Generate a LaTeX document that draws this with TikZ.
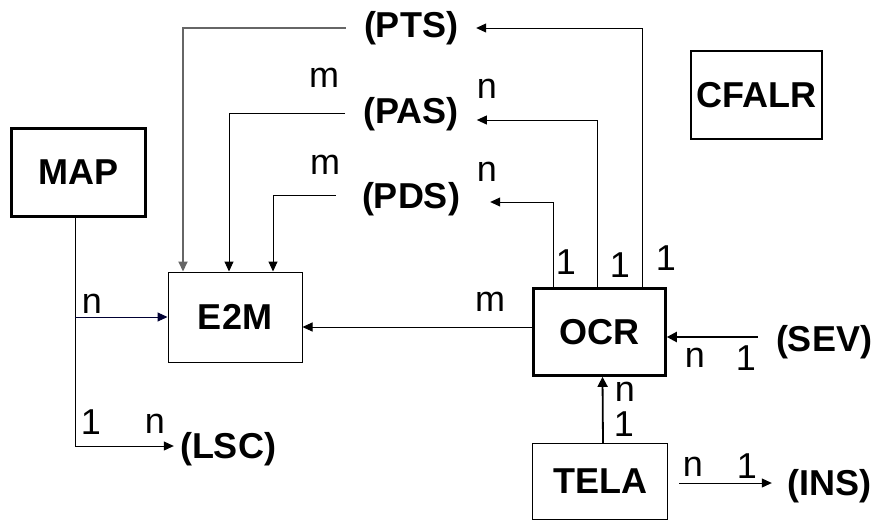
\documentclass[tikz,border=0pt]{standalone}
\usepackage{fontspec}
\setmainfont{Liberation Sans}
\usetikzlibrary{arrows.meta}
\begin{document}
\begin{tikzpicture}[x=1pt,y=-1pt,
  box/.style={draw,line width=1pt,inner sep=0pt,font=\fontsize{36}{38}\selectfont\bfseries},
  thickbox/.style={box,line width=3pt},
  ent/.style={inner sep=0pt,font=\fontsize{36}{38}\selectfont\bfseries},
  lab/.style={inner sep=0pt,font=\fontsize{36}{38}\selectfont},
  arr/.style={line width=1pt,-{Triangle[length=10pt,width=9pt]}},
  arrthick/.style={line width=2.2pt,-{Triangle[length=10pt,width=10pt]}}]
\useasboundingbox (0,0) rectangle (876,523);
% boxes
\node[thickbox,minimum width=134pt,minimum height=88pt] (MAP) at (78.5,172) {MAP};
\node[box,minimum width=134pt,minimum height=90pt] (E2M) at (235,317) {E2M};
\node[box,line width=2pt,minimum width=131pt,minimum height=88pt] (CFALR) at (756.5,95) {CFALR};
\node[box,line width=2.6pt,minimum width=132pt,minimum height=87pt] (OCR) at (599.5,332) {OCR};
\node[box,line width=1.5pt,minimum width=135pt,minimum height=76pt] (TELA) at (600,481.5) {TELA};
% entities in parentheses
\node[ent] (PTS) at (411,28) {(PTS)};
\node[ent] (PAS) at (411,114) {(PAS)};
\node[ent] (PDS) at (411,199) {(PDS)};
\node[ent] (SEV) at (824,342) {(SEV)};
\node[ent] (INS) at (829,486) {(INS)};
\node[ent] (LSC) at (228,449) {(LSC)};
% connectors into E2M from top
\draw[arr,line width=2pt,draw=black!60] ([xshift=-18pt]PTS.west) -| ([xshift=-52pt]E2M.north);
\draw[arr] ([xshift=-18pt,yshift=1pt]PAS.west) -| ([xshift=-6pt]E2M.north);
\draw[arr] ([xshift=-26pt,yshift=4pt]PDS.west) -| ([xshift=38pt]E2M.north);
% from OCR up
\draw[arr] ([xshift=42.5pt]OCR.north) |- ([xshift=18pt]PTS.east);
\draw[arr] ([xshift=-2.5pt]OCR.north) |- ([xshift=18pt,yshift=-6pt]PAS.east);
\draw[arr] ([xshift=-46.5pt]OCR.north) |- ([xshift=30pt,yshift=-3pt]PDS.east);
% OCR to E2M
\draw[arr] ([yshift=5pt]OCR.west) -- ([yshift=5pt]OCR.west -| E2M.east);
% MAP connectors
\coordinate (mapx) at ([xshift=-3.5pt]MAP.south);
\draw[arr] (mapx) |- ([xshift=-6pt,yshift=3pt]LSC.west);
\draw[arr,draw=black!80!blue] (mapx |- E2M.west) -- (E2M.west);
% SEV, TELA
\draw[arrthick] ([xshift=-18pt,yshift=5pt]SEV.west) -- ([yshift=5pt]SEV.west -| OCR.east);
\draw[arrthick,line width=1.8pt] ([xshift=3pt]TELA.north) -- ([xshift=3pt]OCR.south);
\coordinate (insstart) at (TELA.east |- INS.west);
\draw[arr] ([xshift=11pt,yshift=3pt]insstart) -- ([xshift=-15pt,yshift=3pt]INS.west);
% cardinality labels
\node[lab] (l1) at (324,78) {m};
\node[lab] (l2) at (325,165) {m};
\node[lab] (l3) at (487,89) {n};
\node[lab] (l4) at (487,172) {n};
\node[lab] (l5) at (566,262) {1};
\node[lab] (l6) at (620,265) {1};
\node[lab] (l7) at (666,258) {1};
\node[lab] (l8) at (490,302) {m};
\node[lab] (l9) at (92,304) {n};
\node[lab] (l10) at (91,422) {1};
\node[lab] (l11) at (155,424) {n};
\node[lab] (l12) at (695,358) {n};
\node[lab] (l13) at (746,358) {1};
\node[lab] (l14) at (625,392) {n};
\node[lab] (l15) at (624,424) {1};
\node[lab] (l16) at (693,467) {n};
\node[lab] (l17) at (747,466) {1};
\end{tikzpicture}
\end{document}
